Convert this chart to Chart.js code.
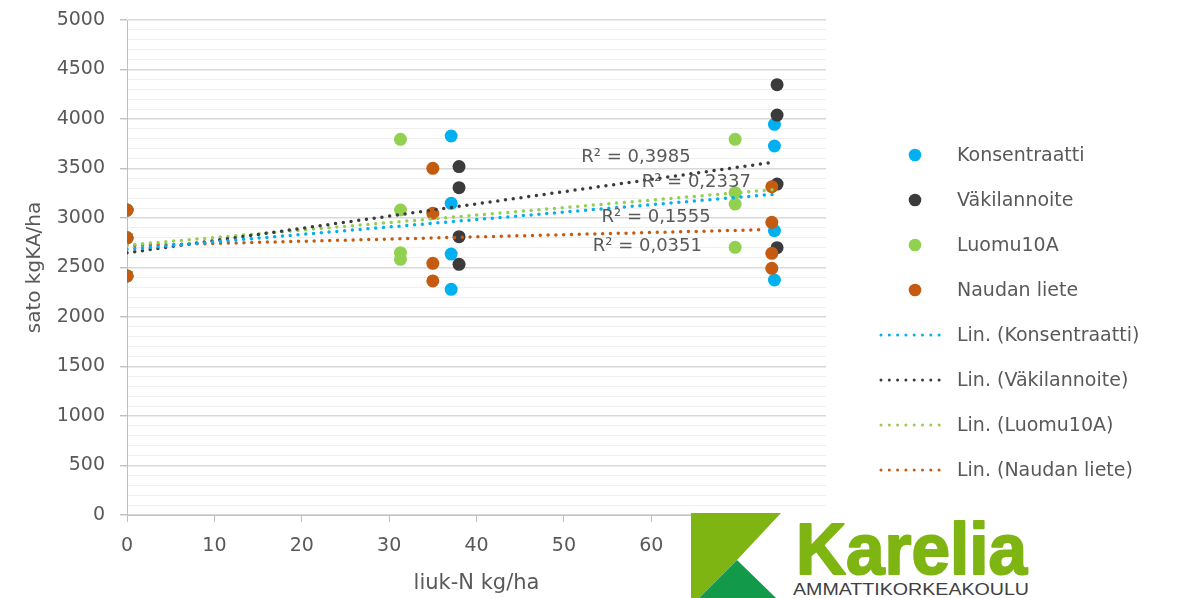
<!DOCTYPE html>
<html>
<head>
<meta charset="utf-8">
<script src="https://cdn.jsdelivr.net/npm/chart.js@4.4.0/dist/chart.umd.min.js"></script>
<style>
  html, body { margin: 0; padding: 0; background: #fff; }
  #wrap { position: relative; width: 1186px; height: 598px; }
  #logo { position: absolute; left: 691px; top: 513px; }
</style>
</head>
<body>
<div id="wrap">
  <canvas id="chart"></canvas>
  <svg id="logo" width="339" height="85" viewBox="0 0 339 85">
    <rect x="0" y="0" width="339" height="85" fill="#fff"/>
    <polygon points="0,0 90,0 46,47 8,85 0,85" fill="#7fb512"/>
    <polygon points="46,47 85,85 8,85" fill="#13994a"/>
    <text x="105" y="61" font-family="Liberation Sans" font-weight="bold" font-size="72"
          fill="#7fb512" stroke="#7fb512" stroke-width="2" stroke-linejoin="round"
          textLength="231" lengthAdjust="spacingAndGlyphs">Karelia</text>
    <text x="102" y="82" font-family="Liberation Sans" font-size="16"
          fill="#404040" textLength="236" lengthAdjust="spacingAndGlyphs">AMMATTIKORKEAKOULU</text>
  </svg>
</div>
<script>
// x = liuk-N kg/ha, y = sato kgKA/ha
const seriesNames = ["Konsentraatti", "Väkilannoite", "Luomu10A", "Naudan liete"];
const seriesColors = ["#00b0f0", "#3b3b3b", "#92d050", "#c55a11"];

const konsX = [0, 0, 0, 37.1, 37.1, 37.1, 37.1, 74.1, 74.1, 74.1, 74.1];
const konsY = [3080, 2800, 2415, 3828, 3148, 2636, 2280, 3946, 3727, 2872, 2374];

const vakiX = [0, 0, 0, 38.0, 38.0, 38.0, 38.0, 74.4, 74.4, 74.4, 74.4];
const vakiY = [3080, 2800, 2415, 3519, 3306, 2811, 2532, 4347, 4040, 3343, 2700];

const luomuX = [0, 0, 0, 31.3, 31.3, 31.3, 31.3, 69.6, 69.6, 69.6, 69.6];
const luomuY = [3080, 2800, 2415, 3795, 3081, 2650, 2583, 3795, 3256, 3141, 2704];

const lieteX = [0, 0, 0, 35.0, 35.0, 35.0, 35.0, 73.8, 73.8, 73.8, 73.8];
const lieteY = [3080, 2800, 2415, 3502, 3047, 2542, 2364, 3316, 2956, 2643, 2492];

// linear trendlines (start / end)
const trendStartX = [0, 0, 0, 0];
const trendEndX = [74.3, 73.9, 74.4, 72.9];
const trendStartY = [2684, 2648, 2726, 2721];
const trendEndY = [3242, 3562, 3290, 2882];
const rSquared = ["0,1555", "0,3985", "0,2337", "0,0351"];

const xTicks = [0, 10, 20, 30, 40, 50, 60, 70, 80];
const yMin = 0, yMax = 5000;

const FONT = "DejaVu Sans";
const TEXT = "#595959";

const pointSets = [[konsX, konsY], [vakiX, vakiY], [luomuX, luomuY], [lieteX, lieteY]];
const zip = (xs, ys) => xs.map((x, i) => ({ x, y: ys[i] }));

// where the R² texts sit (data units of the chart)
const rLabelPos = [[54.3, 3010], [52.0, 3616], [58.9, 3364], [53.3, 2717]];

const datasets = [];
pointSets.forEach(([xs, ys], i) => {
  datasets.push({
    label: seriesNames[i],
    data: zip(xs, ys),
    backgroundColor: seriesColors[i],
    borderWidth: 0,
    pointRadius: 6.5,
    pointHoverRadius: 6.5,
    showLine: false,
    order: 10 - i,
  });
});
seriesNames.forEach((name, i) => {
  datasets.push({
    label: "Lin. (" + name + ")",
    data: [
      { x: trendStartX[i], y: trendStartY[i] },
      { x: trendEndX[i], y: trendEndY[i] },
    ],
    borderColor: seriesColors[i],
    borderWidth: 3.5,
    borderDash: [0, 7.8],
    borderCapStyle: "round",
    pointRadius: 0,
    showLine: true,
    fill: false,
    order: 1,
    isTrend: true,
  });
});

const sideLegend = {
  id: "sideLegend",
  afterDraw(chart) {
    const ctx = chart.ctx;
    ctx.save();
    ctx.font = "19px '" + FONT + "'";
    ctx.textBaseline = "middle";
    chart.data.datasets.forEach((ds, i) => {
      const y = 155 + i * 45;
      if (ds.isTrend) {
        ctx.strokeStyle = ds.borderColor;
        ctx.lineWidth = 3;
        ctx.lineCap = "round";
        ctx.setLineDash([0, 8.3]);
        ctx.beginPath();
        ctx.moveTo(881, y);
        ctx.lineTo(947, y);
        ctx.stroke();
        ctx.setLineDash([]);
      } else {
        ctx.fillStyle = ds.backgroundColor;
        ctx.beginPath();
        ctx.arc(915, y, 6.3, 0, Math.PI * 2);
        ctx.fill();
      }
      ctx.fillStyle = TEXT;
      ctx.fillText(ds.label, 957, y + 1);
    });
    ctx.restore();
  },
};

const rLabels = {
  id: "rLabels",
  afterDatasetsDraw(chart) {
    const { ctx, scales } = chart;
    ctx.save();
    ctx.font = "18px '" + FONT + "'";
    ctx.fillStyle = TEXT;
    ctx.textBaseline = "middle";
    rSquared.forEach((r, i) => {
      const px = scales.x.getPixelForValue(rLabelPos[i][0]);
      const py = scales.y.getPixelForValue(rLabelPos[i][1]);
      ctx.fillText("R² = " + r, px, py);
    });
    ctx.restore();
  },
};

new Chart(document.getElementById("chart"), {
  type: "scatter",
  data: { datasets },
  options: {
    responsive: true,
    maintainAspectRatio: false,
    animation: false,
    layout: { padding: { left: 0, top: 20, right: 360, bottom: 0 } },
    plugins: { legend: { display: false }, tooltip: { enabled: false } },
    scales: {
      x: {
        type: "linear",
        min: xTicks[0],
        max: xTicks[xTicks.length - 1],
        afterBuildTicks: (s) => { s.ticks = xTicks.map((v) => ({ value: v })); },
        afterFit: (s) => { s.height = 83; s.paddingLeft = 0; s.paddingRight = 0; },
        ticks: { color: TEXT, font: { family: FONT, size: 19 }, padding: 13, maxRotation: 0 },
        grid: { drawOnChartArea: false, tickLength: 7, tickColor: "#bfbfbf" },
        border: { color: "#bfbfbf" },
        title: {
          display: true,
          text: "liuk-N kg/ha",
          color: TEXT,
          font: { family: FONT, size: 21 },
          padding: { top: 0, bottom: 2 },
        },
      },
      y: {
        min: yMin,
        max: yMax,
        afterFit: (s) => { s.width = 127; s.paddingTop = 0; s.paddingBottom = 0; },
        ticks: {
          stepSize: 100,
          autoSkip: false,
          color: TEXT,
          font: { family: FONT, size: 19 },
          padding: 15,
          callback: (v) => (v % 500 === 0 ? v : ""),
        },
        grid: {
          color: (c) => (c.tick && c.tick.value % 500 === 0 ? "#d9d9d9" : "#f0f0f0"),
          lineWidth: (c) => (c.tick && c.tick.value % 500 === 0 ? 1.4 : 1),
          tickColor: (c) => (c.tick && c.tick.value % 500 === 0 ? "#bfbfbf" : "rgba(0,0,0,0)"),
          tickLength: 7,
        },
        border: { color: "#bfbfbf" },
        title: {
          display: true,
          text: "sato kgKA/ha",
          color: TEXT,
          font: { family: FONT, size: 20 },
          padding: { top: 23, bottom: 0 },
        },
      },
    },
  },
  plugins: [sideLegend, rLabels],
});
</script>
</body>
</html>
